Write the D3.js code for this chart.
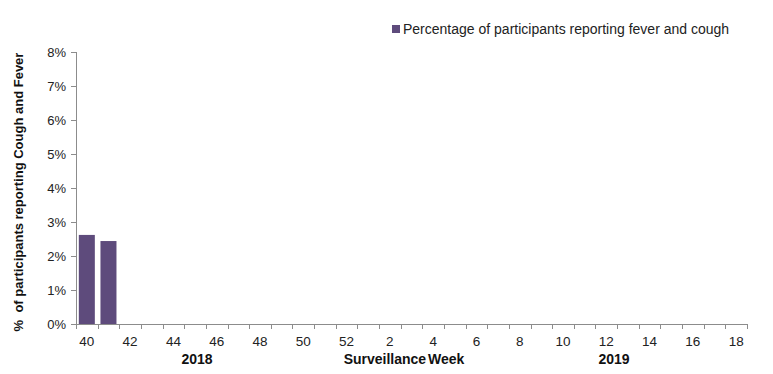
<!DOCTYPE html>
<html><head><meta charset="utf-8">
<script src="https://cdn.jsdelivr.net/npm/d3@7"></script>
<style>body{margin:0;background:#fff}svg{font-family:"Liberation Sans",Arial,sans-serif}</style>
</head><body><svg id="c" width="773" height="374"></svg>
<script>
const weeks = [40,41,42,43,44,45,46,47,48,49,50,51,52,1,2,3,4,5,6,7,8,9,10,11,12,13,14,15,16,17,18];
const values = [2.62,2.44,null,null,null,null,null,null,null,null,null,null,null,null,null,null,null,null,null,null,null,null,null,null,null,null,null,null,null,null,null];
const yTicks = [0,1,2,3,4,5,6,7,8];
const seriesName = "Percentage of participants reporting fever and cough";
const yTitle = "% of participants reporting Cough and Fever";
const xTitle = "Surveillance Week";
const years = ["2018","2019"];

const svg = d3.select("#c");
const L=76, R=747, T=52, B=324;
const x = d3.scaleBand().domain(weeks.map((w,i)=>i)).range([L,R]).paddingInner(0.26).paddingOuter(0.13);
const xb = d3.scaleBand().domain(weeks.map((w,i)=>i)).range([L,R]);
const y = d3.scaleLinear().domain([0,8]).range([B,T]);
const axisCol="#8c8c8c";

// y axis
svg.append("line").attr("x1",L+0.5).attr("x2",L+0.5).attr("y1",T).attr("y2",B).attr("stroke",axisCol);
yTicks.forEach(t=>{
  const yy=Math.round(y(t))+0.5;
  svg.append("line").attr("x1",L-5).attr("x2",L).attr("y1",yy).attr("y2",yy).attr("stroke",axisCol);
  svg.append("text").attr("x",66).attr("y",yy+4.5).attr("text-anchor","end").attr("font-size",13).attr("fill","#222").text(t+"%");
});
// x axis
svg.append("line").attr("x1",L).attr("x2",R).attr("y1",B+0.5).attr("y2",B+0.5).attr("stroke",axisCol);
for(let i=0;i<=weeks.length;i++){
  const xx=Math.round(L+i*xb.step())+0.5;
  svg.append("line").attr("x1",xx).attr("x2",xx).attr("y1",B).attr("y2",B+5).attr("stroke",axisCol);
}
weeks.forEach((w,i)=>{
  if(i%2===0){
    svg.append("text").attr("x",xb(i)+xb.bandwidth()/2).attr("y",346).attr("text-anchor","middle").attr("font-size",13.5).attr("fill","#222").text(w);
  }
});
// bars
svg.selectAll("rect.bar").data(values.map((v,i)=>({v,i})).filter(d=>d.v!=null)).enter().append("rect")
  .attr("x",d=>x(d.i)).attr("width",x.bandwidth()).attr("y",d=>y(d.v)).attr("height",d=>B-y(d.v)).attr("fill","#5e4b7c");

// x titles
svg.append("text").attr("x",197).attr("y",364).attr("text-anchor","middle").attr("font-size",14).attr("font-weight","bold").attr("fill","#111").text(years[0]);
svg.append("text").attr("x",404).attr("y",364).attr("text-anchor","middle").attr("font-size",14).attr("font-weight","bold").attr("fill","#111").attr("word-spacing","-2").text(xTitle);
svg.append("text").attr("x",614).attr("y",364).attr("text-anchor","middle").attr("font-size",14).attr("font-weight","bold").attr("fill","#111").text(years[1]);
// y title
svg.append("text").attr("transform","translate(23,192) rotate(-90)").attr("text-anchor","middle").attr("font-size",13).attr("font-weight","bold").attr("fill","#111").attr("xml:space","preserve").text(yTitle.replace("% ","%  "));
// legend
svg.append("rect").attr("x",392).attr("y",25).attr("width",8).attr("height",8).attr("fill","#5e4b7c");
svg.append("text").attr("x",403).attr("y",34).attr("font-size",14).attr("fill","#222").text(seriesName);
</script></body></html>
